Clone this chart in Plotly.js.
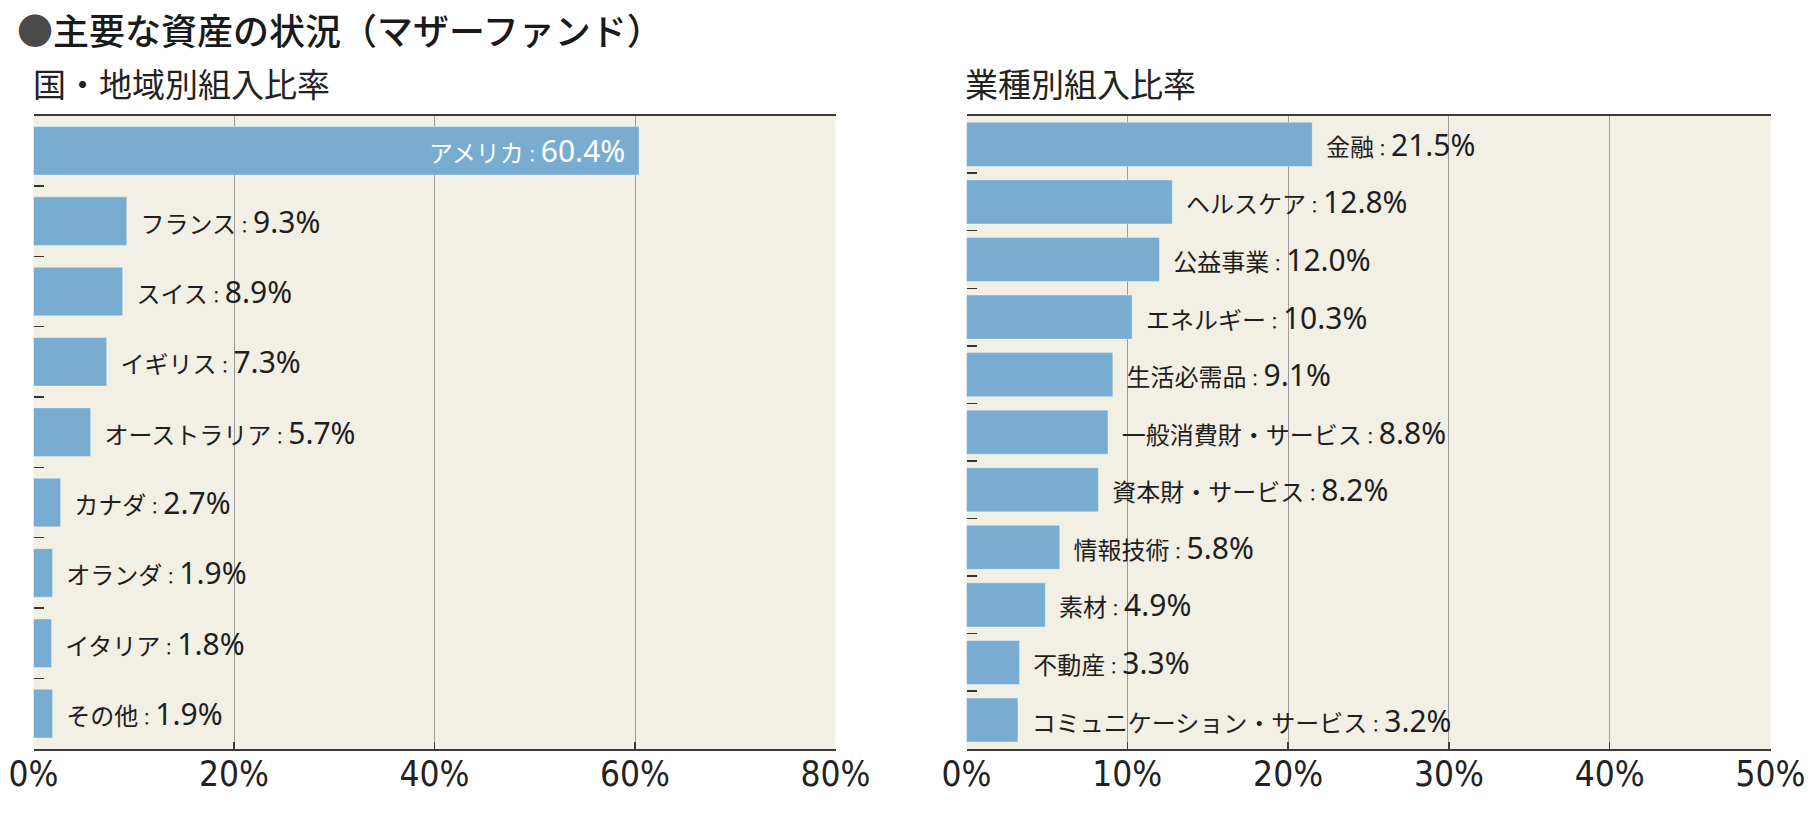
<!DOCTYPE html>
<html>
<head>
<meta charset="utf-8">
<script src="https://cdn.plot.ly/plotly-3.0.1.min.js"></script>
<style>
html,body{margin:0;padding:0;background:#fff;}
#chart{width:1812px;height:818px;}
</style>
</head>
<body>
<div id="chart"></div>
<script>
// ---- data ----
const regionNames = ["アメリカ","フランス","スイス","イギリス","オーストラリア","カナダ","オランダ","イタリア","その他"];
const regionValues = [60.4, 9.3, 8.9, 7.3, 5.7, 2.7, 1.9, 1.8, 1.9];

const sectorNames = ["金融","ヘルスケア","公益事業","エネルギー","生活必需品","一般消費財・サービス","資本財・サービス","情報技術","素材","不動産","コミュニケーション・サービス"];
const sectorValues = [21.5, 12.8, 12.0, 10.3, 9.1, 8.8, 8.2, 5.8, 4.9, 3.3, 3.2];

const regionTicks = [0, 20, 40, 60, 80];
const sectorTicks = [0, 10, 20, 30, 40, 50];

const mainTitle = "主要な資産の状況（マザーファンド）";
const leftTitle = "国・地域別組入比率";
const rightTitle = "業種別組入比率";

// ---- styling ----
const BAR = "#78ADD1";
const BG = "#F2EFE4";
const CJK = "'Noto Sans CJK JP', 'Noto Sans CJK SC', sans-serif";
const NARROW = "'DejaVu Sans Condensed', 'Liberation Sans Narrow', 'Roboto Condensed', Roboto, sans-serif";

function label(name, v, inside) {
  const nb = "\u00a0\u00a0";
  const s = '<span style="font-size:24px">' + name + '</span>' +
            '<span style="font-size:17px">：</span>' +
            '<span style="font-size:30px;font-family:Noto Sans">' + v.toFixed(1) + '%</span>';
  return inside ? s + nb : '<span style="font-size:24px">' + nb + '</span>' + s;
}

function positions(values, range) {
  return values.map(v => v > range * 0.6 ? "inside" : "outside");
}

const leftPos = positions(regionValues, 80);
const rightPos = positions(sectorValues, 50);

function barTrace(values, names, pos, xa, ya, w) {
  return {
    type: "bar", orientation: "h",
    x: values, y: names,
    xaxis: xa, yaxis: ya,
    width: w,
    marker: {color: BAR, line: {color: "rgba(255,255,255,0.35)", width: 1}},
    text: values.map((v, i) => label(names[i], v, pos[i] === "inside")),
    textposition: pos,
    insidetextanchor: "end",
    insidetextfont: {color: "#ffffff", family: CJK, size: 24},
    outsidetextfont: {color: "#1e1e1e", family: CJK, size: 24},
    constraintext: "none",
    cliponaxis: false,
    hoverinfo: "skip",
    showlegend: false
  };
}

const traces = [
  barTrace(regionValues, regionNames, leftPos, "x", "y", 0.69),
  barTrace(sectorValues, sectorNames, rightPos, "x2", "y2", 0.765)
];

const yTop = 1 - 115.6 / 818;
const yBot = 1 - 748.8 / 818;

function xaxis(domain, ticks) {
  return {
    domain: domain,
    range: [ticks[0], ticks[ticks.length - 1]],
    tickvals: ticks,
    ticktext: ticks.map(t => t + "%"),
    showgrid: true, gridcolor: "#9c9c9c", gridwidth: 1,
    zeroline: false,
    showline: true, linecolor: "#3a3a3a", linewidth: 2, mirror: true,
    ticks: "inside", ticklen: 7, tickwidth: 1.5, tickcolor: "#3a3a3a",
    tickfont: {family: NARROW, size: 35, color: "#222", stretch: "condensed"},
    ticklabelstandoff: -7,
    fixedrange: true
  };
}
function yaxis(anchor) {
  return {
    domain: [yBot, yTop],
    anchor: anchor,
    type: "category",
    autorange: "reversed",
    showticklabels: false,
    showgrid: false, zeroline: false, showline: false,
    ticks: "inside", tickson: "boundaries", ticklen: 10, tickwidth: 1.5, tickcolor: "#333",
    fixedrange: true
  };
}

const layout = {
  width: 1812, height: 818,
  margin: {l: 0, r: 0, t: 0, b: 0},
  paper_bgcolor: "#ffffff",
  plot_bgcolor: BG,
  xaxis: Object.assign(xaxis([33.5 / 1812, 835.5 / 1812], regionTicks), {anchor: "y"}),
  yaxis: yaxis("x"),
  xaxis2: Object.assign(xaxis([966.5 / 1812, 1770.5 / 1812], sectorTicks), {anchor: "y2"}),
  yaxis2: yaxis("x2"),
  annotations: [
    {
      xref: "paper", yref: "paper", x: 15 / 1812, y: 1 - 29 / 818,
      xanchor: "left", yanchor: "middle", showarrow: false,
      text: '<span style="color:#4a4a4a">●</span>' + mainTitle,
      font: {family: CJK, size: 36, color: "#1a1a1a", weight: 500}
    },
    {
      xref: "paper", yref: "paper", x: 31 / 1812, y: 1 - 83 / 818,
      xanchor: "left", yanchor: "middle", showarrow: false,
      text: leftTitle,
      font: {family: CJK, size: 33, color: "#222"}
    },
    {
      xref: "paper", yref: "paper", x: 963 / 1812, y: 1 - 83 / 818,
      xanchor: "left", yanchor: "middle", showarrow: false,
      text: rightTitle,
      font: {family: CJK, size: 33, color: "#222"}
    }
  ]
};

Plotly.newPlot("chart", traces, layout, {staticPlot: true, displayModeBar: false});
</script>
</body>
</html>
